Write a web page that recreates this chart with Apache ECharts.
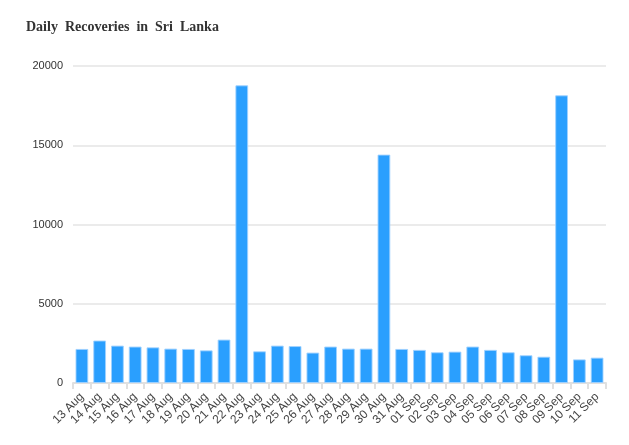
<!DOCTYPE html>
<html><head><meta charset="utf-8">
<script src="https://cdn.jsdelivr.net/npm/echarts@6/dist/echarts.min.js"></script>
<style>html,body{margin:0;padding:0;background:#fff}#c{width:629px;height:445px}</style>
</head><body><div id="c"></div>
<script>
const categories = ["13 Aug","14 Aug","15 Aug","16 Aug","17 Aug","18 Aug","19 Aug","20 Aug","21 Aug","22 Aug","23 Aug","24 Aug","25 Aug","26 Aug","27 Aug","28 Aug","29 Aug","30 Aug","31 Aug","01 Sep","02 Sep","03 Sep","04 Sep","05 Sep","06 Sep","07 Sep","08 Sep","09 Sep","10 Sep","11 Sep"];
const recoveries = [2150,2680,2360,2300,2250,2170,2150,2060,2740,18780,2000,2360,2330,1920,2300,2170,2170,14410,2150,2090,1940,1980,2300,2090,1940,1750,1660,18150,1490,1600];
const yTicks = {min:0, max:20000, interval:5000};
const titleText = "Daily  Recoveries  in  Sri  Lanka";

const chart = echarts.init(document.getElementById('c'), null, {renderer:'canvas'});
chart.setOption({
  animation:false,
  title:{text:titleText,left:21,top:15,textStyle:{fontFamily:'Liberation Serif',fontWeight:'bold',fontSize:14,color:'#333'}},
  grid:{left:73,right:23,top:66,bottom:62},
  xAxis:{type:'category',data:categories,
    axisLine:{lineStyle:{color:'#e0e0e0',width:2}},
    axisTick:{show:true,lineStyle:{color:'#e0e0e0',width:2},length:6},
    axisLabel:{rotate:45,interval:0,fontSize:12,color:'#444',fontFamily:'Arial, Liberation Sans',margin:12}},
  yAxis:{type:'value',min:yTicks.min,max:yTicks.max,interval:yTicks.interval,
    axisLine:{show:false},axisTick:{show:false},
    axisLabel:{fontSize:11,color:'#333',fontFamily:'Arial, Liberation Sans',margin:10,formatter:function(v){return String(v);}},
    splitLine:{lineStyle:{color:'#ebebeb',width:2}}},
  series:[{type:'bar',data:recoveries,barWidth:'72%',
    itemStyle:{color:'#2a9ffe',borderColor:'rgba(160,210,255,0.9)',borderWidth:1}}]
});
</script></body></html>
